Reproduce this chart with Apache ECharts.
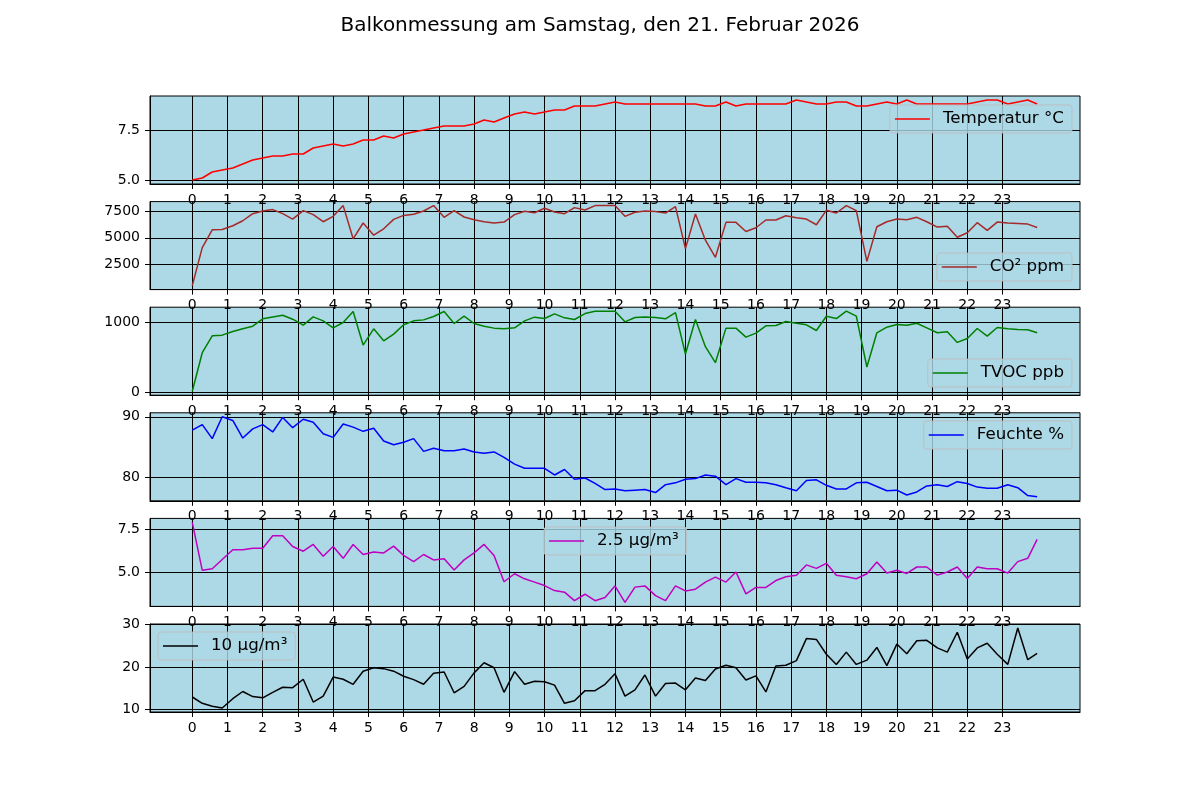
<!DOCTYPE html>
<html>
<head>
<meta charset="utf-8">
<script src="https://cdn.jsdelivr.net/npm/echarts@6/dist/echarts.min.js"></script>
<style>
html,body{margin:0;padding:0;background:#fff;}
#chart{width:1200px;height:800px;}
</style>
</head>
<body>
<div id="chart"></div>
<script>
// Measurement times (clock time)
const times = [
"00:00","00:17","00:34","00:51","01:09","01:26","01:43",
"02:00","02:17","02:34","02:51","03:09","03:26","03:43",
"04:00","04:17","04:34","04:51","05:09","05:26","05:43",
"06:00","06:17","06:34","06:51","07:09","07:26","07:43",
"08:00","08:17","08:34","08:51","09:09","09:26","09:43",
"10:00","10:17","10:34","10:51","11:09","11:26","11:43",
"12:00","12:17","12:34","12:51","13:09","13:26","13:43",
"14:00","14:17","14:34","14:51","15:09","15:26","15:43",
"16:00","16:17","16:34","16:51","17:09","17:26","17:43",
"18:00","18:17","18:34","18:51","19:09","19:26","19:43",
"20:00","20:17","20:34","20:51","21:09","21:26","21:43",
"22:00","22:17","22:34","22:51","23:09","23:26","23:43",
"23:59"];

const temperatur = [5.0,5.1,5.4,5.5,5.6,5.8,6.0,6.1,6.2,6.2, 6.3,6.3,6.6,6.7,6.8,6.7,6.8,7.0,7.0,7.2, 7.1,7.3,7.4,7.5,7.6,7.7,7.7,7.7,7.8,8.0, 7.9,8.1,8.3,8.4,8.3,8.4,8.5,8.5,8.7,8.7, 8.7,8.8,8.9,8.8,8.8,8.8,8.8,8.8,8.8,8.8, 8.8,8.7,8.7,8.9,8.7,8.8,8.8,8.8,8.8,8.8, 9.0,8.9,8.8,8.8,8.9,8.9,8.7,8.7,8.8,8.9, 8.8,9.0,8.8,8.8,8.8,8.8,8.8,8.8,8.9,9.0, 9.0,8.8,8.9,9.0,8.8];

const co2 = [560,4090,5750,5780,6130,6590,7250,7500,7630,7250, 6750,7530,7160,6500,7000,8000,4910,6380,5250,5840, 6720,7090,7190,7500,8000,6910,7530,6940,6690,6500, 6380,6470,7160,7470,7340,7750,7410,7250,7810,7590, 8000,8000,8000,7000,7380,7500,7440,7310,7900,4000, 7220,4780,3190,6440,6440,5590,5940,6660,6660,7060, 6880,6750,6220,7560,7310,8000,7530,2810,6030,6500, 6750,6690,6910,6500,6000,6090,5060,5470,6410,5690, 6470,6380,6340,6280,5970];

const tvoc = [10,565,809,818,871,909,947,1053,1081,1105, 1048,962,1081,1024,923,1000,1158,675,909,737, 833,967,1024,1038,1086,1158,986,1091,986,947, 919,909,923,1024,1077,1057,1124,1067,1043,1129, 1163,1163,1163,1010,1072,1081,1072,1053,1143,545, 1043,651,421,919,919,790,847,952,957,1014, 990,967,885,1091,1057,1163,1091,359,852,933, 971,962,990,923,852,866,713,770,914,804, 928,909,900,895,852];

const feuchte = [87.8,88.7,86.4,90.0,89.4,86.5,88.0,88.7,87.5,89.9, 88.2,89.6,89.1,87.2,86.6,88.8,88.3,87.6,88.1,86.0, 85.4,85.8,86.4,84.3,84.8,84.4,84.4,84.7,84.2,84.0, 84.2,83.3,82.2,81.5,81.5,81.5,80.4,81.3,79.7,79.9, 79.0,78.0,78.1,77.8,77.9,78.0,77.5,78.8,79.1,79.7, 79.8,80.4,80.2,78.8,79.8,79.2,79.2,79.1,78.8,78.3, 77.8,79.5,79.6,78.7,78.1,78.1,79.1,79.2,78.5,77.8, 77.9,77.1,77.6,78.6,78.8,78.5,79.3,79.0,78.4,78.2, 78.2,78.8,78.3,77.0,76.8];

const pm25 = [7.9,5.14,5.23,5.76,6.32,6.32,6.41,6.41,7.13,7.13, 6.51,6.24,6.63,5.95,6.51,5.83,6.63,6.05,6.2,6.14, 6.53,6.0,5.64,6.05,5.74,5.81,5.16,5.74,6.14,6.63, 5.99,4.48,4.94,4.65,4.46,4.26,3.97,3.88,3.39,3.76, 3.39,3.57,4.24,3.29,4.17,4.24,3.68,3.39,4.24,3.95, 4.05,4.46,4.75,4.46,5.04,3.78,4.15,4.15,4.55,4.77, 4.86,5.45,5.25,5.54,4.86,4.77,4.65,4.94,5.62,4.98, 5.14,4.96,5.33,5.33,4.86,5.04,5.33,4.67,5.33,5.23, 5.23,4.98,5.64,5.83,6.92];

const pm10 = [12.9,11.4,10.7,10.3,12.5,14.2,13.0,12.7,14.0,15.2, 15.1,17.1,11.7,13.1,17.6,17.1,15.9,19.0,19.8,19.6, 19.0,17.8,17.0,15.9,18.5,18.8,13.9,15.4,18.6,21.0, 19.8,14.0,18.9,15.9,16.6,16.5,15.7,11.4,12.0,14.4, 14.4,15.9,18.4,13.1,14.6,18.1,13.1,16.1,16.2,14.6, 17.4,16.8,19.5,20.4,19.8,16.9,17.9,14.1,20.2,20.4, 21.5,26.7,26.5,23.0,20.6,23.5,20.6,21.6,24.6,20.3, 25.4,23.1,26.2,26.3,24.5,23.5,28.2,21.9,24.5,25.6, 23.0,20.6,29.2,21.7,23.2];

// Tick labels
const hourTicks = [0,1,2,3,4,5,6,7,8,9,10,11,12,13,14,15,16,17,18,19,20,21,22,23];
const tempTicks = [5.0, 7.5];
const co2Ticks = [2500, 5000, 7500];
const tvocTicks = [0, 1000];
const feuchteTicks = [80, 90];
const pm25Ticks = [5.0, 7.5];
const pm10Ticks = [10, 20, 30];

const names = ["Temperatur °C", "CO² ppm", "TVOC ppb", "Feuchte %", "2.5 µg/m³", "10 µg/m³"];
const colors = ["#ff0000", "#a52a2a", "#008000", "#0000ff", "#bf00bf", "#000000"];
const title = "Balkonmessung am Samstag, den 21. Februar 2026";

// ---- build ----
const hours = times.map(s => { const p = s.split(":"); return +p[0] + (+p[1]) / 60; });
const series = [temperatur, co2, tvoc, feuchte, pm25, pm10];
const yTicks = [tempTicks, co2Ticks, tvocTicks, feuchteTicks, pm25Ticks, pm10Ticks];
const decimals = [1, 0, 0, 0, 1, 0];
const FONT = "DejaVu Sans";

const tops = [96, 201.6, 307.2, 412.8, 518.4, 624];
const PH = 88;
const legendPos = [
  {right: 128, top: 105},
  {right: 128, top: 253},
  {right: 128, top: 359},
  {right: 128, top: 421},
  {left: 544, top: 527},
  {left: 158, top: 632}
];

function padRange(arr) {
  const mn = Math.min(...arr), mx = Math.max(...arr);
  const r = mx - mn;
  return [mn - 0.05 * r, mx + 0.05 * r];
}
const xr = [0, 24];
const xMin = xr[0] - 0.05 * (xr[1] - xr[0]);
const xMax = xr[1] + 0.05 * (xr[1] - xr[0]);

const grids = [], xAxes = [], yAxes = [], ser = [], legends = [];
series.forEach((vals, k) => {
  grids.push({left: 150, right: 120, top: tops[k], height: PH, show: true,
    backgroundColor: '#add8e6', borderColor: '#000', borderWidth: 1});
  xAxes.push({type: 'value', gridIndex: k, min: xMin, max: xMax,
    axisLine: {show: true, onZero: false, lineStyle: {color: '#000', width: 1}},
    axisTick: {show: true, length: 5, inside: false, customValues: hourTicks, lineStyle: {color: '#000', width: 1}},
    axisLabel: {show: true, customValues: hourTicks, color: '#000', fontSize: 14, fontFamily: FONT, margin: 9},
    splitLine: {show: true, lineStyle: {color: '#000', width: 1}}
  });
  const yr = padRange(vals);
  yAxes.push({type: 'value', gridIndex: k, min: yr[0], max: yr[1],
    axisLine: {show: true, onZero: false, lineStyle: {color: '#000', width: 1}},
    axisTick: {show: true, length: 5, customValues: yTicks[k], lineStyle: {color: '#000', width: 1}},
    axisLabel: {show: true, customValues: yTicks[k], color: '#000', fontSize: 14, fontFamily: FONT, margin: 10,
      formatter: v => Number(v).toFixed(decimals[k])},
    splitLine: {show: true, lineStyle: {color: '#000', width: 1}}
  });
  ser.push({name: names[k], type: 'line', xAxisIndex: k, yAxisIndex: k,
    data: hours.map((h, i) => [h, vals[i]]),
    symbol: 'none', showSymbol: false, smooth: false,
    lineStyle: {color: colors[k], width: 1.5}, itemStyle: {color: colors[k]},
    animation: false, silent: true, z: 3});
  legends.push(Object.assign({
    data: [names[k]], orient: 'horizontal', selectedMode: false,
    icon: 'rect', itemWidth: 35, itemHeight: 1.5,
    backgroundColor: 'rgba(173,216,230,0.8)', borderColor: 'rgba(190,190,190,0.9)', borderWidth: 1, borderRadius: 3,
    padding: [5, 8, 5, 5],
    textStyle: {color: '#000', fontSize: 16.7, fontFamily: FONT, padding: [0, 0, 0, 8], lineHeight: 18}
  }, legendPos[k]));
});

const chart = echarts.init(document.getElementById('chart'), null, {renderer: 'canvas'});
chart.setOption({
  backgroundColor: '#ffffff',
  animation: false,
  title: {text: title, left: 'center', top: 11,
    textStyle: {color: '#000', fontSize: 20, fontWeight: 'normal', fontFamily: FONT}},
  grid: grids, xAxis: xAxes, yAxis: yAxes, series: ser, legend: legends
});
</script>
</body>
</html>
